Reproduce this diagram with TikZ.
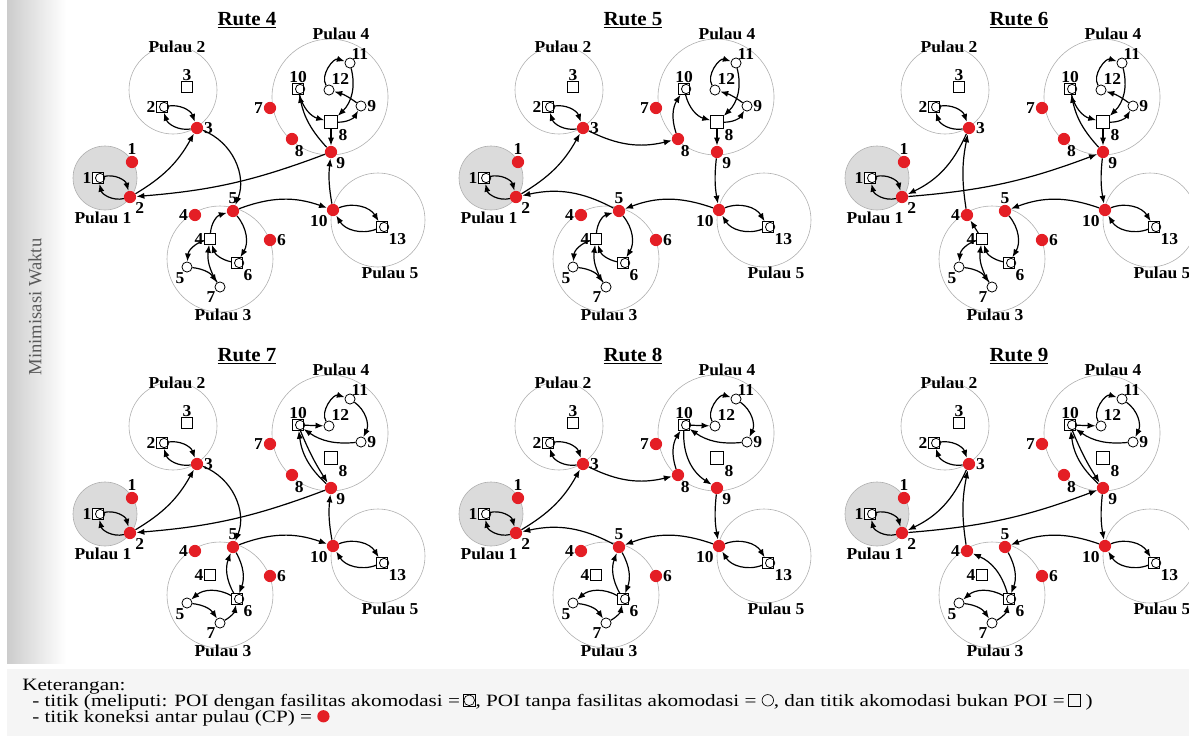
\documentclass[tikz,border=0pt]{standalone}
\usepackage{fontspec}
\setmainfont{Liberation Serif}
\newfontfamily\lblfont[FakeStretch=1.05]{Liberation Serif}
\newfontfamily\ketfont[FakeStretch=1.22]{Liberation Serif}
\usetikzlibrary{arrows.meta}

\definecolor{cpmerah}{RGB}{228,30,37}
\definecolor{garispulau}{RGB}{175,175,175}

\tikzset{
	pulau/.style={draw=garispulau,line width=0.45pt},
	cp/.style={circle,fill=cpmerah,inner sep=0pt,minimum size=9.2pt},
	poi/.style={circle,draw,fill=white,inner sep=0pt,minimum size=7.6pt,line width=0.6pt},
	akom/.style={rectangle,draw,fill=white,inner sep=0pt,minimum size=8pt,line width=0.6pt},
	lbl/.style={font=\lblfont\bfseries\fontsize{12.5}{13}\selectfont,inner sep=0.4pt},
	judul/.style={font=\lblfont\bfseries\fontsize{15}{15}\selectfont,inner sep=0pt},
	rute/.style={line width=0.9pt,black,-{Latex[length=6pt,width=4.6pt]}},
	kiri/.style={bend right=#1},
	kanan/.style={bend left=#1},
}

% ikon keterangan
\newcommand{\ikonpoiakom}{\raisebox{0.33em}{\tikz[baseline={(0,0)}]{\draw[line width=0.5pt] (-4.5pt,-4.5pt) rectangle (4.5pt,4.5pt); \draw[line width=0.5pt] (0,0) circle (4pt);}}}
\newcommand{\ikonpoi}{\raisebox{0.33em}{\tikz[baseline={(0,0)}]{\draw[line width=0.5pt] (0,0) circle (4.3pt);}}}
\newcommand{\ikonakom}{\raisebox{0.33em}{\tikz[baseline={(0,0)}]{\draw[line width=0.5pt] (-4.5pt,-4.5pt) rectangle (4.5pt,4.5pt);}}}
\newcommand{\ikoncp}{\raisebox{0.33em}{\tikz[baseline={(0,0)}]{\fill[cpmerah] (0,0) circle (4.6pt);}}}

% satu peta rute: #1 nama, #2 judul, #3 geser x, #4 geser y
\newcommand{\peta}[4]{%
\begin{scope}[shift={(#3,#4)}]
	\node[judul] (#1-judul) at (247,20) {\underline{#2}};
	% pulau
	\draw[pulau,fill=black!14] (105,178) circle (32);
	\draw[pulau] (173,90) circle (44);
	\draw[pulau] (220,259) circle (53);
	\draw[pulau] (330,97) circle (58);
	\draw[pulau] (378,220) circle (47);
	\node[lbl] (#1-p1) at (103,218) {Pulau 1};
	\node[lbl] (#1-p2) at (177,47) {Pulau 2};
	\node[lbl] (#1-p3) at (223,315) {Pulau 3};
	\node[lbl] (#1-p4) at (341,34) {Pulau 4};
	\node[lbl] (#1-p5) at (390,273) {Pulau 5};
	% titik koneksi antar pulau
	\foreach \i/\x/\y/\a in {1/132/162/above,2/130/197/below right,3/197/128/right,4/195/215/left,5/233/211/above,6/270/240/right,7/270/108/left,8/292/139/-70,9/331/152/below right,10/333/210/below left}
		\node[cp,label={[lbl]\a:\i}] (#1-cp\i) at (\x,\y) {};
	% titik POI dan akomodasi
	\node[akom,label={[lbl]left:1}] (#1-n1) at (98,178) {};
	\node[akom,label={[lbl]left:2}] (#1-n2) at (162,107) {};
	\node[akom,label={[lbl]above:3}] (#1-n3) at (187,87) {};
	\node[akom,label={[lbl]left:4}] (#1-n4) at (210,239) {};
	\node[poi,label={[lbl]-110:5}] (#1-n5) at (187,267) {};
	\node[akom,label={[lbl]below right:6}] (#1-n6) at (237,263) {};
	\node[poi,label={[lbl]below left:7}] (#1-n7) at (220,287) {};
	\node[akom,minimum size=9.5pt,label={[lbl]below right:8}] (#1-n8) at (331,122) {};
	\node[poi,label={[lbl]right:9}] (#1-n9) at (361,106) {};
	\node[akom,label={[lbl]above:10}] (#1-n10) at (298,89) {};
	\node[poi,label={[lbl,label distance=-2pt]75:11}] (#1-n11) at (350,63) {};
	\node[poi,label={[lbl]70:12}] (#1-n12) at (329,90) {};
	\node[akom,label={[lbl]below right:13}] (#1-n13) at (382,227) {};
	\foreach \n in {1,2,6,10,13}
		\draw[line width=0.6pt] ([xshift=1.6pt]#1-n\n.center) circle (3.5pt);
	% pergi-pulang yang sama di semua rute
	\draw[rute] (#1-n1) to[kiri=45] (#1-cp2);
	\draw[rute] (#1-cp2) to[kiri=45] (#1-n1);
	\draw[rute] (#1-n2) to[kiri=40] (#1-cp3);
	\draw[rute] (#1-cp3) to[kiri=40] (#1-n2);
	\draw[rute] (#1-cp10) to[kiri=40] (#1-n13);
	\draw[rute] (#1-n13) to[kiri=40] (#1-cp10);
\end{scope}}

% pulau 4, lewat titik 8
\newcommand{\empatA}[1]{%
	\draw[rute] (#1-n10) to[kanan=30] (#1-n8);
	\draw[rute] (#1-n8) to[kanan=30] (#1-n9);
	\draw[rute] (#1-n9) to[kanan=10] (#1-n12);
	\draw[rute] (#1-n12) to[kiri=70] (#1-n11);
	\draw[rute] (#1-n11) to[kiri=30] (#1-n8);
	\draw[rute] (#1-n8) -- (#1-cp9);}
% pulau 4, tanpa titik 8
\newcommand{\empatB}[1]{%
	\draw[rute] (#1-n10) -- (#1-n12);
	\draw[rute] (#1-n12) to[kiri=70] (#1-n11);
	\draw[rute] (#1-n11) to[kiri=40] (#1-n9);
	\draw[rute] (#1-n9) to[kiri=20] (#1-n10);}
% pulau 3, lewat titik 4
\newcommand{\tigaA}[1]{%
	\draw[rute] (#1-cp5) to[kiri=35] (#1-n6);
	\draw[rute] (#1-n6) to[kiri=30] (#1-n4);
	\draw[rute] (#1-n4) to[kanan=35] (#1-n5);
	\draw[rute] (#1-n5) to[kiri=25] (#1-n7);
	\draw[rute] (#1-n7) to[kiri=20] (#1-n4);}
% pulau 3, tanpa titik 4
\newcommand{\tigaB}[1]{%
	\draw[rute] (#1-cp5) to[kiri=25] (#1-n6);
	\draw[rute] (#1-n6) to[kanan=35] (#1-n5);
	\draw[rute] (#1-n5) to[kiri=25] (#1-n7);
	\draw[rute] (#1-n7) to[kanan=25] (#1-n6);}

\begin{document}
\begin{tikzpicture}[x=0.75pt,y=0.75pt,yscale=-1,xscale=1]
	\useasboundingbox (0,0) rectangle (1189,736);
	\clip (0,0) rectangle (1189,736);
	\shade[left color=black!20,right color=white] (7,0) rectangle (66,663);
	\fill[black!4] (7,669) rectangle (1189,736);
	\node[rotate=90,text=black!65,font=\fontsize{14}{14}\selectfont] (sisi) at (35,307) {Minimisasi Waktu};

	\peta{r4}{Rute 4}{0}{0}
	\peta{r5}{Rute 5}{386}{0}
	\peta{r6}{Rute 6}{772}{0}
	\peta{r7}{Rute 7}{0}{336}
	\peta{r8}{Rute 8}{386}{336}
	\peta{r9}{Rute 9}{772}{336}

	% Rute 4
	\draw[rute] (r4-cp2) to[kanan=15] (r4-cp3);
	\draw[rute] (r4-cp3) to[kiri=45] (r4-cp5);
	\draw[rute] (r4-cp5) to[kiri=20] (r4-cp10);
	\draw[rute] (r4-cp10) to[kiri=8] (r4-cp9);
	\draw[rute] (r4-cp9) to[kiri=8] (r4-cp2);
	\draw[rute] (r4-cp9) to[kiri=15] (r4-n10);
	\empatA{r4}
	\tigaA{r4}
	\draw[rute] (r4-n4) to[kiri=35] (r4-cp5);

	% Rute 5
	\draw[rute] (r5-cp2) to[kanan=15] (r5-cp3);
	\draw[rute] (r5-cp3) to[kanan=20] (r5-cp8);
	\draw[rute] (r5-cp8) to[kiri=25] (r5-n10);
	\empatA{r5}
	\draw[rute] (r5-cp9) to[kanan=8] (r5-cp10);
	\draw[rute] (r5-cp10) to[kanan=20] (r5-cp5);
	\tigaA{r5}
	\draw[rute] (r5-n4) to[kiri=35] (r5-cp5);
	\draw[rute] (r5-cp5) to[kanan=20] (r5-cp2);

	% Rute 6
	\draw[rute] (r6-cp3) to[kiri=20] (r6-cp2);
	\draw[rute] (r6-cp4) to[kiri=10] (r6-cp3);
	\draw[rute] (r6-cp2) to[kanan=8] (r6-cp9);
	\draw[rute] (r6-cp9) to[kiri=15] (r6-n10);
	\empatA{r6}
	\draw[rute] (r6-cp9) to[kanan=8] (r6-cp10);
	\draw[rute] (r6-cp10) to[kanan=20] (r6-cp5);
	\tigaA{r6}
	\draw[rute] (r6-n4) -- (r6-cp4);

	% Rute 7
	\draw[rute] (r7-cp2) to[kanan=15] (r7-cp3);
	\draw[rute] (r7-cp3) to[kiri=45] (r7-cp5);
	\draw[rute] (r7-cp5) to[kiri=20] (r7-cp10);
	\draw[rute] (r7-cp10) to[kiri=8] (r7-cp9);
	\draw[rute] (r7-cp9) to[kiri=8] (r7-cp2);
	\draw[rute] (r7-cp9) to[kiri=20] (r7-n10);
	\draw[rute] (r7-n10) to[kanan=5] (r7-cp9);
	\empatB{r7}
	\tigaB{r7}
	\draw[rute] (r7-n6) to[kiri=25] (r7-cp5);

	% Rute 8
	\draw[rute] (r8-cp2) to[kanan=15] (r8-cp3);
	\draw[rute] (r8-cp3) to[kanan=20] (r8-cp8);
	\draw[rute] (r8-cp8) to[kiri=25] (r8-n10);
	\draw[rute] (r8-n10) to[kanan=30] (r8-cp9);
	\empatB{r8}
	\draw[rute] (r8-cp9) to[kanan=8] (r8-cp10);
	\draw[rute] (r8-cp10) to[kanan=20] (r8-cp5);
	\tigaB{r8}
	\draw[rute] (r8-n6) to[kiri=25] (r8-cp5);
	\draw[rute] (r8-cp5) to[kanan=20] (r8-cp2);

	% Rute 9
	\draw[rute] (r9-cp3) to[kiri=20] (r9-cp2);
	\draw[rute] (r9-cp4) to[kiri=10] (r9-cp3);
	\draw[rute] (r9-cp2) to[kanan=8] (r9-cp9);
	\draw[rute] (r9-cp9) to[kiri=20] (r9-n10);
	\draw[rute] (r9-n10) to[kanan=5] (r9-cp9);
	\empatB{r9}
	\draw[rute] (r9-cp9) to[kanan=8] (r9-cp10);
	\draw[rute] (r9-cp10) to[kanan=20] (r9-cp5);
	\tigaB{r9}
	\draw[rute] (r9-n6) to[kanan=25] (r9-cp4);

	% keterangan
	\node[anchor=base west,inner sep=0pt,font=\ketfont\fontsize{13}{12}\selectfont] (ket1) at (22,690) {Keterangan:};
	\node[anchor=base west,inner sep=0pt,font=\ketfont\fontsize{13}{12}\selectfont] (ket2) at (32,706) {- titik (meliputi: POI dengan fasilitas akomodasi =\,\ikonpoiakom, POI tanpa fasilitas akomodasi = \ikonpoi, dan titik akomodasi bukan POI =\,\ikonakom\ )};
	\node[anchor=base west,inner sep=0pt,font=\ketfont\fontsize{13}{12}\selectfont] (ket3) at (32,722) {- titik koneksi antar pulau (CP) = \ikoncp};
\end{tikzpicture}
\end{document}
